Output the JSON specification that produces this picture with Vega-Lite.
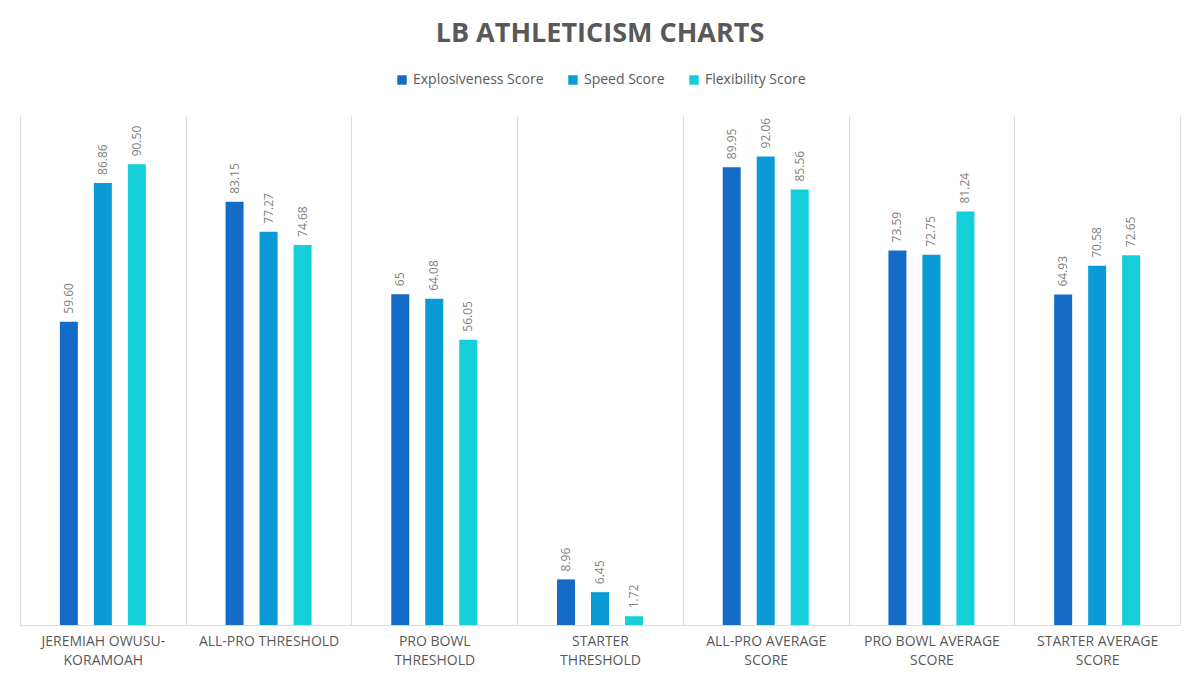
{
  "$schema": "https://vega.github.io/schema/vega-lite/v6.json",
  "width": 1160,
  "height": 509,
  "padding": {"left": 20, "right": 20, "top": 20, "bottom": 14},
  "background": "white",
  "title": {
    "text": "LB ATHLETICISM CHARTS",
    "font": "Open Sans",
    "fontSize": 27,
    "fontWeight": "bold",
    "color": "#595959",
    "anchor": "middle",
    "offset": 25
  },
  "data": {
    "values": [
      {"group": "Jeremiah Owusu-Koramoah", "measure": "Explosiveness Score", "score": 59.60, "label": "59.60"},
      {"group": "Jeremiah Owusu-Koramoah", "measure": "Speed Score", "score": 86.86, "label": "86.86"},
      {"group": "Jeremiah Owusu-Koramoah", "measure": "Flexibility Score", "score": 90.50, "label": "90.50"},
      {"group": "All-Pro Threshold", "measure": "Explosiveness Score", "score": 83.15, "label": "83.15"},
      {"group": "All-Pro Threshold", "measure": "Speed Score", "score": 77.27, "label": "77.27"},
      {"group": "All-Pro Threshold", "measure": "Flexibility Score", "score": 74.68, "label": "74.68"},
      {"group": "Pro Bowl Threshold", "measure": "Explosiveness Score", "score": 65, "label": "65"},
      {"group": "Pro Bowl Threshold", "measure": "Speed Score", "score": 64.08, "label": "64.08"},
      {"group": "Pro Bowl Threshold", "measure": "Flexibility Score", "score": 56.05, "label": "56.05"},
      {"group": "Starter Threshold", "measure": "Explosiveness Score", "score": 8.96, "label": "8.96"},
      {"group": "Starter Threshold", "measure": "Speed Score", "score": 6.45, "label": "6.45"},
      {"group": "Starter Threshold", "measure": "Flexibility Score", "score": 1.72, "label": "1.72"},
      {"group": "All-Pro Average Score", "measure": "Explosiveness Score", "score": 89.95, "label": "89.95"},
      {"group": "All-Pro Average Score", "measure": "Speed Score", "score": 92.06, "label": "92.06"},
      {"group": "All-Pro Average Score", "measure": "Flexibility Score", "score": 85.56, "label": "85.56"},
      {"group": "Pro Bowl Average Score", "measure": "Explosiveness Score", "score": 73.59, "label": "73.59"},
      {"group": "Pro Bowl Average Score", "measure": "Speed Score", "score": 72.75, "label": "72.75"},
      {"group": "Pro Bowl Average Score", "measure": "Flexibility Score", "score": 81.24, "label": "81.24"},
      {"group": "Starter Average Score", "measure": "Explosiveness Score", "score": 64.93, "label": "64.93"},
      {"group": "Starter Average Score", "measure": "Speed Score", "score": 70.58, "label": "70.58"},
      {"group": "Starter Average Score", "measure": "Flexibility Score", "score": 72.65, "label": "72.65"}
    ]
  },
  "encoding": {
    "x": {
      "field": "group",
      "type": "nominal",
      "sort": null,
      "title": null,
      "scale": {"paddingInner": 0, "paddingOuter": 0},
      "axis": {
        "labelAngle": 0,
        "labelFont": "Open Sans",
        "labelFontSize": 14,
        "labelColor": "#595959",
        "labelPadding": 9,
        "labelLineHeight": 19,
        "labelBaseline": "top",
        "labelExpr": "datum.label == 'Jeremiah Owusu-Koramoah' ? ['JEREMIAH OWUSU-', 'KORAMOAH'] : datum.label == 'All-Pro Threshold' ? 'ALL-PRO THRESHOLD' : datum.label == 'Pro Bowl Threshold' ? ['PRO BOWL', 'THRESHOLD'] : datum.label == 'Starter Threshold' ? ['STARTER', 'THRESHOLD'] : datum.label == 'All-Pro Average Score' ? ['ALL-PRO AVERAGE', 'SCORE'] : datum.label == 'Pro Bowl Average Score' ? ['PRO BOWL AVERAGE', 'SCORE'] : datum.label == 'Starter Average Score' ? ['STARTER AVERAGE', 'SCORE'] : ''",
        "ticks": false,
        "tickBand": "extent",
        "grid": true,
        "gridColor": "#d9d9d9",
        "domainColor": "#d9d9d9"
      }
    },
    "xOffset": {
      "field": "measure",
      "type": "nominal",
      "sort": ["Explosiveness Score", "Speed Score", "Flexibility Score"],
      "scale": {"paddingInner": 0.126, "paddingOuter": 1}
    },
    "y": {
      "field": "score",
      "type": "quantitative",
      "scale": {"domain": [0, 100]},
      "axis": null
    }
  },
  "layer": [
    {
      "mark": {"type": "bar", "width": 18},
      "encoding": {
        "color": {
          "field": "measure",
          "type": "nominal",
          "sort": ["Explosiveness Score", "Speed Score", "Flexibility Score"],
          "scale": {
            "domain": ["Explosiveness Score", "Speed Score", "Flexibility Score"],
            "range": ["#156cc6", "#0a9bd7", "#14cfd9"]
          },
          "legend": {
            "title": null,
            "orient": "top",
            "direction": "horizontal",
            "symbolType": "square",
            "symbolSize": 90,
            "symbolStrokeWidth": 0,
            "labelFont": "Open Sans",
            "labelFontSize": 14,
            "labelColor": "#595959",
            "columnPadding": 22,
            "offset": 29
          }
        }
      }
    },
    {
      "mark": {
        "type": "text",
        "angle": 270,
        "align": "left",
        "baseline": "middle",
        "dx": 8,
        "font": "Open Sans",
        "fontSize": 12,
        "color": "#7f7f7f"
      },
      "encoding": {
        "text": {"field": "label"}
      }
    }
  ],
  "config": {
    "view": {"stroke": null},
    "legend": {"layout": {"top": {"anchor": "middle"}}}
  }
}
